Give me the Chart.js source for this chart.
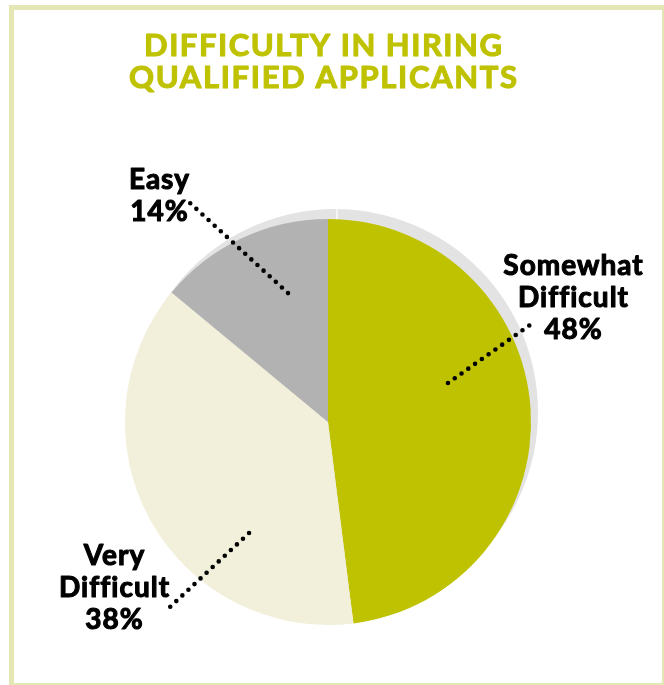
<!DOCTYPE html>
<html>
<head>
<meta charset="utf-8">
<title>Difficulty in Hiring Qualified Applicants</title>
<script src="https://cdn.jsdelivr.net/npm/chart.js@4/dist/chart.umd.min.js"></script>
<style>
  html, body { margin: 0; padding: 0; background: #ffffff; }
  #wrap { width: 664px; height: 685px; }
</style>
</head>
<body>
<div id="wrap"><canvas id="chart" width="664" height="685"></canvas></div>
<script>
// Survey shares, clockwise from 12 o'clock
const categories = ['Somewhat Difficult', 'Very Difficult', 'Easy'];
const shares = [48, 38, 14];
const labelLines = [['Somewhat', 'Difficult'], ['Very', 'Difficult'], ['Easy']];
const titleLines = ['DIFFICULTY IN HIRING', 'QUALIFIED APPLICANTS'];

const sliceColors = ['#bfc200', '#f2f0da', '#b2b2b2'];
const OLIVE = '#bfc200';
const FRAME = '#e4e6b4';
const SHADOW = '#e3e3e3';

// Callout geometry in units of the pie radius, relative to the pie centre:
// leader from `inner` to `outer`, text block centred on `text` (first baseline).
const callouts = [
  { inner: [0.591, -0.192], outer: [0.995, -0.478], text: [1.207, -0.724] },
  { inner: [-0.389, 0.547], outer: [-0.778, 0.911], text: [-1.054, 0.704] },
  { inner: [-0.197, -0.635], outer: [-0.680, -1.079], text: [-0.833, -1.148] }
];

// widths the two title lines are set to
const titleWidths = [359, 389];

// Heavy text: fill plus a thin stroke in the same colour
function heavyText(ctx, text, x, y, weight) {
  ctx.lineWidth = weight;
  ctx.lineJoin = 'round';
  ctx.strokeText(text, x, y);
  ctx.fillText(text, x, y);
}

function spacedText(ctx, text, x, y, width, weight) {
  ctx.letterSpacing = '0px';
  const natural = ctx.measureText(text).width + weight;
  const sp = width ? (width - natural) / Math.max(1, text.length - 1) : 0;
  ctx.letterSpacing = sp.toFixed(2) + 'px';
  // letterSpacing adds trailing space after last glyph; shift to keep centred
  heavyText(ctx, text, x + sp / 2, y, weight);
  ctx.letterSpacing = '0px';
}

const framePlugin = {
  id: 'frame',
  beforeDraw(chart) {
    const { ctx, width, height } = chart;
    ctx.save();
    ctx.fillStyle = '#ffffff';
    ctx.fillRect(0, 0, width, height);
    ctx.fillStyle = FRAME;
    ctx.fillRect(9, 5, 5, height - 5);          // left rule
    ctx.fillRect(9, 5, width - 9, 5);           // top rule
    ctx.fillRect(width - 2, 5, 2, height - 5);  // right rule
    ctx.fillRect(9, height - 2, width - 9, 2);  // bottom rule
    // title
    ctx.fillStyle = OLIVE;
    ctx.strokeStyle = OLIVE;
    ctx.textAlign = 'center';
    ctx.textBaseline = 'alphabetic';
    ctx.font = '700 31px Lato';
    spacedText(ctx, titleLines[0], 323, 56, titleWidths[0], 1.1);
    spacedText(ctx, titleLines[1], 323, 88, titleWidths[1], 1.1);
    ctx.restore();
  }
};

const shadowPlugin = {
  id: 'pieShadow',
  beforeDatasetsDraw(chart) {
    const arc = chart.getDatasetMeta(0).data[0];
    if (!arc) return;
    const { x, y, outerRadius } = arc.getProps(['x', 'y', 'outerRadius'], true);
    const { ctx } = chart;
    const sx = x + 7, sy = y - 10;
    ctx.save();
    ctx.fillStyle = SHADOW;
    ctx.beginPath();
    ctx.arc(sx, sy, outerRadius, 0, Math.PI * 2);
    ctx.fill();
    ctx.strokeStyle = '#ffffff';
    ctx.lineWidth = 1.2;
    ctx.beginPath();
    ctx.moveTo(sx + 2, sy - outerRadius - 1);
    ctx.lineTo(sx + 2, sy);
    ctx.stroke();
    ctx.restore();
  }
};

const calloutPlugin = {
  id: 'callouts',
  afterDatasetsDraw(chart) {
    const meta = chart.getDatasetMeta(0);
    const { ctx } = chart;
    const values = chart.data.datasets[0].data;
    ctx.save();
    meta.data.forEach((arc, i) => {
      const { x, y, outerRadius: r } = arc.getProps(['x', 'y', 'outerRadius'], true);
      const c = callouts[i];
      // dotted leader
      ctx.strokeStyle = '#000000';
      ctx.lineWidth = 4.6;
      ctx.lineCap = 'round';
      ctx.setLineDash([0, 8.3]);
      ctx.beginPath();
      ctx.moveTo(x + c.inner[0] * r, y + c.inner[1] * r);
      ctx.lineTo(x + c.outer[0] * r, y + c.outer[1] * r);
      ctx.stroke();
      ctx.setLineDash([]);
      ctx.lineCap = 'butt';
      // text
      const lines = labelLines[i].concat([values[i] + '%']);
      ctx.fillStyle = '#000000';
      ctx.font = '700 28px Lato';
      ctx.textAlign = 'center';
      ctx.textBaseline = 'alphabetic';
      const tx = x + c.text[0] * r;
      const ty = y + c.text[1] * r;
      ctx.letterSpacing = '1px';
      lines.forEach((t, k) => heavyText(ctx, t, tx + 0.5, ty + k * 32, 1.1));
      ctx.letterSpacing = '0px';
    });
    ctx.restore();
  }
};

new Chart(document.getElementById('chart'), {
  type: 'pie',
  data: {
    labels: categories,
    datasets: [{
      data: shares,
      backgroundColor: sliceColors,
      borderWidth: 0,
      hoverOffset: 0
    }]
  },
  options: {
    responsive: false,
    devicePixelRatio: 1,
    animation: false,
    layout: { padding: { left: 125, right: 133, top: 219, bottom: 60 } },
    plugins: {
      legend: { display: false },
      tooltip: { enabled: false },
      title: { display: false }
    }
  },
  plugins: [framePlugin, shadowPlugin, calloutPlugin]
});
</script>
</body>
</html>
